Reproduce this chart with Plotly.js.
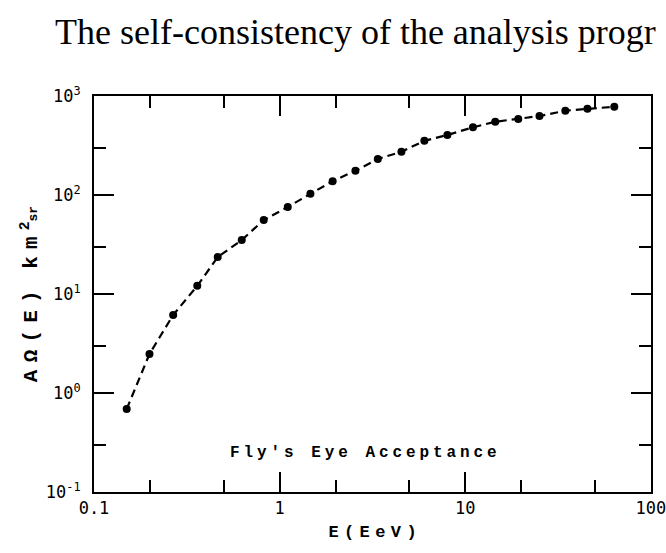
<!DOCTYPE html>
<html>
<head>
<meta charset="utf-8">
<script src="https://cdn.plot.ly/plotly-3.0.1.min.js"></script>
<style>html,body{margin:0;padding:0;background:#fff;}#chart{width:666px;height:553px;}</style>
</head>
<body>
<div id="chart"></div>
<script>
// Energy (EeV)
const energy = [0.150, 0.199, 0.267, 0.360, 0.464, 0.625, 0.821, 1.106, 1.465, 1.93, 2.56, 3.38, 4.53, 6.02, 8.01, 11.0, 14.5, 19.3, 25.1, 34.6, 45.5, 63.5];
// Acceptance A*Omega (km^2 sr)
const acceptance = [0.689, 2.48, 6.14, 12.1, 23.6, 35.1, 55.9, 75.6, 103, 138, 176, 231, 274, 353, 404, 483, 550, 586, 628, 711, 745, 780];

const xTickVals = [0.1, 1, 10, 100];
const xTickText = ['0.1', '1', '10', '100'];
const xMinorVals = [0.2, 0.5, 2, 5, 20, 50];
const yTickVals = [0.1, 1, 10, 100, 1000];
const yTickText = ['10<sup>-1</sup>', '10<sup>0</sup>', '10<sup>1</sup>', '10<sup>2</sup>', '10<sup>3</sup>'];
const yMinorVals = [0.3, 3, 30, 300];

const titleText = "The self-consistency of the analysis progr";
const xTitleText = "E(EeV)";
const yTitleMain = "AΩ(E)";
const yTitleUnit = "km";
const yTitleSup = "2";
const yTitleSub = "sr";
const noteText = "Fly's Eye Acceptance";

// letter-spaced typewriter look
function spaced(str, gap) {
  return Array.from(str).map(c => c === ' ' ? `<span style="font-size:${gap * 2.5}px"> </span>` : c)
    .join(`<span style="font-size:${gap}px"> </span>`);
}

const tickFont = {family: 'DejaVu Sans Mono, monospace', size: 17, color: '#000'};
const mono = 'Liberation Mono, DejaVu Sans Mono, monospace';

const trace = {
  x: energy, y: acceptance, type: 'scatter', mode: 'lines+markers',
  line: {color: '#000', width: 2.2, dash: '8px,5px'},
  marker: {color: '#000', size: 8},
  showlegend: false, hoverinfo: 'none'
};

const axisCommon = {
  type: 'log', showgrid: false, zeroline: false,
  showline: true, linecolor: '#000', linewidth: 2, mirror: 'allticks',
  ticks: 'inside', ticklen: 20, tickwidth: 2, tickcolor: '#000',
  tickfont: tickFont, tickmode: 'array', ticklabeloverflow: 'allow'
};

const yTitle = spaced(yTitleMain, 12) + `<span style="font-size:36px"> </span>` + spaced(yTitleUnit, 12) +
  `<span style="font-size:10px"> </span><sup>${yTitleSup}</sup><span style="font-size:13px">${yTitleSub}</span>`;

const layout = {
  width: 666, height: 553,
  margin: {l: 93.5, r: 15.3, t: 96, b: 61, pad: 0},
  paper_bgcolor: '#fff', plot_bgcolor: '#fff',
  title: {text: titleText, x: 55/666, xanchor: 'left', xref: 'container', y: 1 - 31/553, yref: 'container', yanchor: 'middle',
          font: {family: 'Liberation Serif, serif', size: 36, color: '#000'}},
  xaxis: Object.assign({}, axisCommon, {
    range: [-1, 2.0005], tickvals: xTickVals, ticktext: xTickText,
    minor: {tickvals: xMinorVals, ticks: 'inside', ticklen: 12, tickwidth: 2, tickcolor: '#000'},
    title: {text: spaced(xTitleText, 9), font: {family: mono, size: 17, color: '#000', weight: 'bold'}, standoff: 8}
  }),
  yaxis: Object.assign({}, axisCommon, {
    range: [-1, 3.0005], tickvals: yTickVals, ticktext: yTickText, ticklabelstandoff: 8,
    minor: {tickvals: yMinorVals, ticks: 'inside', ticklen: 12, tickwidth: 2, tickcolor: '#000'},
    title: {text: yTitle, font: {family: mono, size: 21, color: '#000', weight: 'bold'}, standoff: 2}
  }),
  annotations: [{
    text: spaced(noteText, 6.5), xref: 'paper', yref: 'paper', x: 0.4837, y: 0.101,
    xanchor: 'center', yanchor: 'middle', showarrow: false,
    font: {family: mono, size: 16, color: '#000', weight: 'bold'}
  }]
};

Plotly.newPlot('chart', [trace], layout, {staticPlot: true});
</script>
</body>
</html>
